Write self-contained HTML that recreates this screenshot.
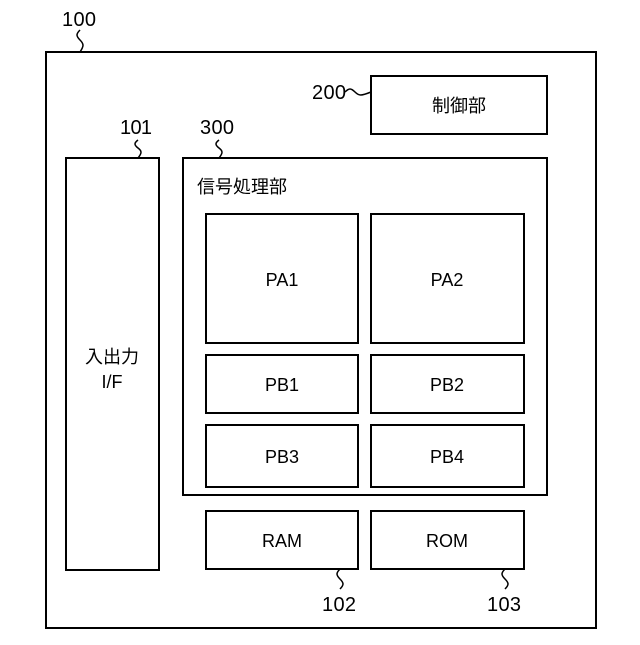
<!DOCTYPE html>
<html><head><style>
body{margin:0;background:#fff}
svg text{font-family:"Liberation Sans","Noto Sans CJK JP",sans-serif;fill:#000}
</style></head><body>
<svg width="640" height="640" viewBox="0 0 640 640" xmlns="http://www.w3.org/2000/svg">
<g fill="none" stroke="#000" stroke-width="2">
<rect x="46" y="52" width="550" height="576"/>
<rect x="371" y="76" width="176" height="58"/>
<rect x="66" y="158" width="93" height="412"/>
<rect x="183" y="158" width="364" height="337"/>
<rect x="206" y="214" width="152" height="129"/>
<rect x="371" y="214" width="153" height="129"/>
<rect x="206" y="355" width="152" height="58"/>
<rect x="371" y="355" width="153" height="58"/>
<rect x="206" y="425" width="152" height="62"/>
<rect x="371" y="425" width="153" height="62"/>
<rect x="206" y="511" width="152" height="58"/>
<rect x="371" y="511" width="153" height="58"/>
<g stroke-width="1.5">
<path d="M80,30 c-4,4 -4,6 0,10 c4,4 4,6 0,12"/>
<path d="M138,140 c-4,3 -4,5 0,8 c4,3 4,5 0,10"/>
<path d="M219,140 c-4,3 -4,5 0,8 c4,3 4,5 0,10"/>
<path d="M345,92 c4,-4 6,-4 10,0 c4,4 6,4 16,0"/>
<path d="M340,569 c-4,4 -4,6 0,10 c4,4 4,6 0,10"/>
<path d="M505,569 c-4,4 -4,6 0,10 c4,4 4,6 0,10"/>
</g>
</g>
<g font-size="20">
<text x="62" y="26" textLength="34">100</text>
<text x="120" y="134" textLength="32">101</text>
<text x="200" y="134" textLength="34">300</text>
<text x="312" y="99" textLength="34">200</text>
<text x="322" y="611" textLength="34">102</text>
<text x="487" y="611" textLength="34">103</text>
</g>
<g font-size="18" text-anchor="middle">
<text x="459" y="112">制御部</text>
<text x="112" y="363">入出力</text>
<text x="112" y="388" font-family="Liberation Mono,monospace">I/F</text>
<text x="282" y="286">PA1</text>
<text x="447" y="286">PA2</text>
<text x="282" y="391">PB1</text>
<text x="447" y="391">PB2</text>
<text x="282" y="463">PB3</text>
<text x="447" y="463">PB4</text>
<text x="282" y="547">RAM</text>
<text x="447" y="547">ROM</text>
</g>
<text x="197" y="193" font-size="18">信号処理部</text>
</svg>
</body></html>
